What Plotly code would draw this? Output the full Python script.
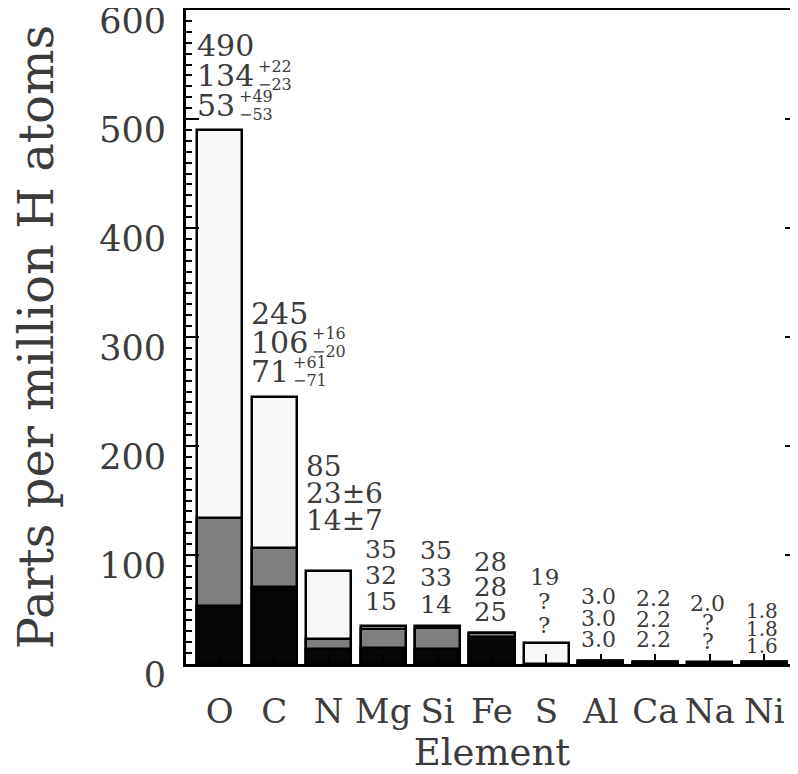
import plotly.graph_objects as go

# ---------------- data ----------------
elements = ["O", "C", "N", "Mg", "Si", "Fe", "S", "Al", "Ca", "Na", "Ni"]
total_ppm = [490, 245, 85, 35, 35, 28, 19, 3.0, 2.2, 2.0, 1.8]
middle_ppm = [134, 106, 23, 32, 33, 28, None, 3.0, 2.2, None, 1.8]
lower_ppm = [53, 71, 14, 15, 14, 25, None, 3.0, 2.2, None, 1.6]

total_txt = ["490", "245", "85", "35", "35", "28", "19", "3.0", "2.2", "2.0", "1.8"]
middle_txt = ["134", "106", "23±6", "32", "33", "28", "?", "3.0", "2.2", "?", "1.8"]
lower_txt = ["53", "71", "14±7", "15", "14", "25", "?", "3.0", "2.2", "?", "1.6"]
# asymmetric errors (superscript, subscript) for the middle and lower rows
middle_err = {"O": ("+22", "−23"), "C": ("+16", "−20")}
lower_err = {"O": ("+49", "−53"), "C": ("+61", "−71")}

y_tickvals = [0, 100, 200, 300, 400, 500, 600]

# ---------------- style ----------------
FONT = "DejaVu Serif"
TXT = "#3c3c3c"
lbl_size = [30, 30, 28, 25, 25, 26, 23, 22, 22, 22, 20]
lbl_gap = [24, 25, 51, 24, 21, 21, 18, 21, 22, 20, 16]
lbl_step = [30, 29, 27, 26, 27, 25, 24, 21.5, 20.5, 19, 17.5]
left_aligned = {"O", "C", "N"}

fig = go.Figure()
bar_w = 0.83
for vals, col in [(total_ppm, "#f8f8f8"), (middle_ppm, "#7f7f7f"), (lower_ppm, "#050505")]:
    fig.add_trace(go.Bar(
        x=elements, y=vals, width=bar_w,
        marker=dict(color=col, line=dict(color="black", width=2.5)),
        showlegend=False, hoverinfo="skip",
    ))

annotations = []
for i, el in enumerate(elements):
    fs = lbl_size[i]
    rows = [total_txt[i], middle_txt[i], lower_txt[i]]
    errs = [None, middle_err.get(el), lower_err.get(el)]
    for r, (txt, err) in enumerate(zip(rows, errs)):
        ys = lbl_gap[i] + (2 - r) * lbl_step[i]
        if el in left_aligned:
            xs, xa = -25, "left"
        else:
            xs, xa = -2, "center"
        annotations.append(dict(
            x=el, y=total_ppm[i], xref="x", yref="y", text=txt, showarrow=False,
            xanchor=xa, yanchor="middle", xshift=xs, yshift=ys,
            font=dict(family=FONT, size=fs, color=TXT),
        ))
        if err:
            sx = xs + len(txt) * 0.636 * fs + 4
            for t, dy in [(err[0], 9), (err[1], -9)]:
                annotations.append(dict(
                    x=el, y=total_ppm[i], xref="x", yref="y", text=t, showarrow=False,
                    xanchor="left", yanchor="middle", xshift=sx, yshift=ys + dy,
                    font=dict(family=FONT, size=16, color=TXT),
                ))

# the page body adds an 8px margin, so the figure is sized to fit inside it
fig.update_layout(
    width=790, height=766,
    margin=dict(l=178, r=0, t=2, b=110),
    paper_bgcolor="white", plot_bgcolor="white",
    barmode="overlay", bargap=0,
    annotations=annotations,
    font=dict(family=FONT, color=TXT),
)
fig.update_xaxes(
    range=[-0.62, 10.62], showgrid=False, automargin=False,
    showline=True, linecolor="black", linewidth=3, mirror=True,
    ticks="inside", ticklen=10, tickwidth=2, tickcolor="black",
    tickfont=dict(family=FONT, size=34, color=TXT), ticklabelstandoff=15,
    title=dict(text="Element", font=dict(family=FONT, size=37, color=TXT), standoff=21),
)
fig.update_yaxes(
    range=[0, 600], showgrid=False, zeroline=False, automargin=False,
    showline=True, linecolor="black", linewidth=3, mirror="allticks",
    tickvals=y_tickvals, ticks="inside", ticklen=13, tickwidth=2, tickcolor="black",
    minor=dict(ticks="inside", dtick=10, ticklen=6, tickwidth=2, tickcolor="black", showgrid=False),
    tickfont=dict(family=FONT, size=35, color=TXT), ticklabelstandoff=10,
    ticklabelshift=11, ticklabeloverflow="allow",
    title=dict(text="Parts per million H atoms", font=dict(family=FONT, size=48, color=TXT), standoff=40),
)

fig.write_html("out.html")
